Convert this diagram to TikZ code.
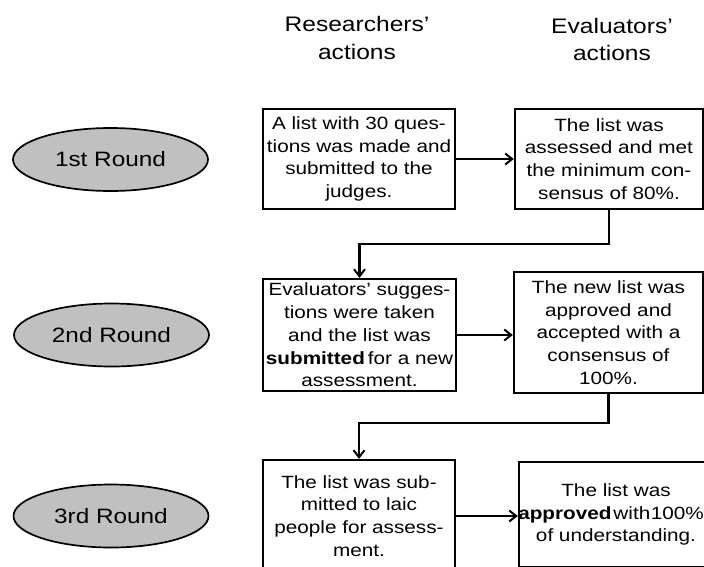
\documentclass[tikz,border=0pt]{standalone}
\usepackage{fontspec}
\setmainfont{Liberation Sans}[FakeStretch=1.17]
\usetikzlibrary{arrows.meta,shapes.geometric}
\definecolor{ellfill}{HTML}{C0C0C0}
\tikzset{
  hdr/.style={align=center,inner sep=0pt,font=\fontsize{21}{27.7}\selectfont},
  actbox/.style={draw,line width=2.3pt,align=center,inner sep=0pt,
    font=\fontsize{17.7}{22.8}\selectfont},
  roundell/.style={ellipse,draw,line width=1.7pt,fill=ellfill,inner sep=0pt,
    minimum width=195pt,minimum height=63pt,font=\fontsize{20.8}{25}\selectfont},
  arr/.style={line width=2.3pt,-{Straight Barb[length=7pt,width=11pt,line width=2pt]}}
}
\begin{document}
\begin{tikzpicture}[x=1pt,y=-1pt]
\useasboundingbox (0,0) rectangle (704,566);
\clip (0,0) rectangle (704,566);
\fill[white] (0,0) rectangle (704,566);

\node[hdr] (h1) at (357,38) {Researchers’\\actions};
\node[hdr] (h2) at (612,39.5) {Evaluators’\\actions};

\node[roundell] (e1) at (110.5,159.5) {1st Round};
\node[roundell] (e2) at (111.5,335) {2nd Round};
\node[roundell] (e3) at (111,516) {3rd Round};

\node[actbox,minimum width=192pt,minimum height=100pt] (b1) at (359,159)
  {A list with 30 ques-\\tions was made and\\submitted to the\\judges.};
\node[actbox,minimum width=188pt,minimum height=100pt] (b2) at (609,159)
  {The list was\\assessed and met\\the minimum con-\\sensus of 80\%.};
\node[actbox,minimum width=193pt,minimum height=112pt] (b3) at (359.5,335)
  {Evaluators’ sugges-\\tions were taken\\and the list was\\\textbf{submitted}\,for a new\\assessment.};
\node[actbox,minimum width=189pt,minimum height=121pt] (b4) at (608.5,332.5)
  {The new list was\\approved and\\accepted with a\\consensus of\\100\%.};
\node[actbox,minimum width=192pt,minimum height=112pt] (b5) at (359,516)
  {The list was sub-\\mitted to laic\\people for assess-\\ment.};
\node[actbox,minimum width=194pt,minimum height=105pt] (b6) at (616,514.5)
  {The list was\\\hspace*{-10pt}\textbf{approved}\hspace{2pt}with\hspace{0.5pt}100\%\\of understanding.};

\coordinate (k1) at (0,244);
\coordinate (k2) at (0,423);

\draw[arr] (b1.east) -- (b2.west);
\draw[arr] (b2.south) -- (b2.south |- k1) -| (b3.north);
\draw[arr] (b3.east) -- (b3.east -| b4.west);
\draw[arr] (b4.south) -- (b4.south |- k2) -| (b5.north);
\draw[arr] (b5.east) -- (b5.east -| b6.west);
\end{tikzpicture}
\end{document}
